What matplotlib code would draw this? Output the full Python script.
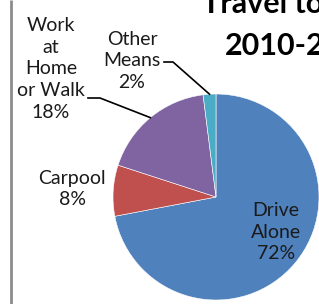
import numpy as np
import matplotlib
matplotlib.use('Agg')
import matplotlib.pyplot as plt

# commute mode shares (percent), clockwise from the top
modes = ['Drive\nAlone', 'Carpool', 'Work\nat\nHome\nor Walk', 'Other\nMeans']
shares = [72, 8, 18, 2]
colors = ['#4F81BD', '#C0504D', '#8064A2', '#4BACC6']
title_lines = ['Travel to Work', '2010-2014']

W, H = 319, 304
fig = plt.figure(figsize=(W / 100, H / 100), dpi=100)
ax = fig.add_axes([0, 0, 1, 1])

cx, cy, r = 216, H - 197, 103
wedges, _ = ax.pie(shares, colors=colors, startangle=90, counterclock=False,
                   center=(cx, cy), radius=r,
                   wedgeprops=dict(edgecolor='white', linewidth=0.4))
ax.set_xlim(0, W)
ax.set_ylim(0, H)
ax.set_aspect('equal')
ax.axis('off')

font = 'Lato'
lab = dict(fontsize=14, family=font, color='#1a1a1a', ha='center', va='center',
           linespacing=1.35)

# label positions (image px, y from top)
pos = [(276, 232), (72, 189), (51, 69), (132, 61)]
for name, val, (x, y) in zip(modes, shares, pos):
    ax.text(x, H - y, f'{name}\n{val}%', **lab)


def edge_point(w):
    a = np.deg2rad((w.theta1 + w.theta2) / 2)
    return cx + r * np.cos(a), cy + r * np.sin(a)


# leader lines for the two small-label slices
ex, ey = edge_point(wedges[3])
ax.plot([164, 173, ex], [H - 62, H - 62, ey], color='black', lw=1.2)
ex, ey = edge_point(wedges[2])
ax.plot([88, 100, ex], [H - 98, H - 98, ey], color='black', lw=1.2)

# title, clipped by the figure edge like the source crop
ax.text(202, H - 13, title_lines[0], fontsize=22, fontweight='bold',
        family=font, ha='left', va='baseline')
ax.text(225, H - 55, title_lines[1], fontsize=22, fontweight='bold',
        family=font, ha='left', va='baseline')

# left border of the chart frame
ax.plot([11, 11], [0, H], color='#8c8c8c', lw=2, solid_capstyle='butt')

fig.savefig('out.png', dpi=100)
